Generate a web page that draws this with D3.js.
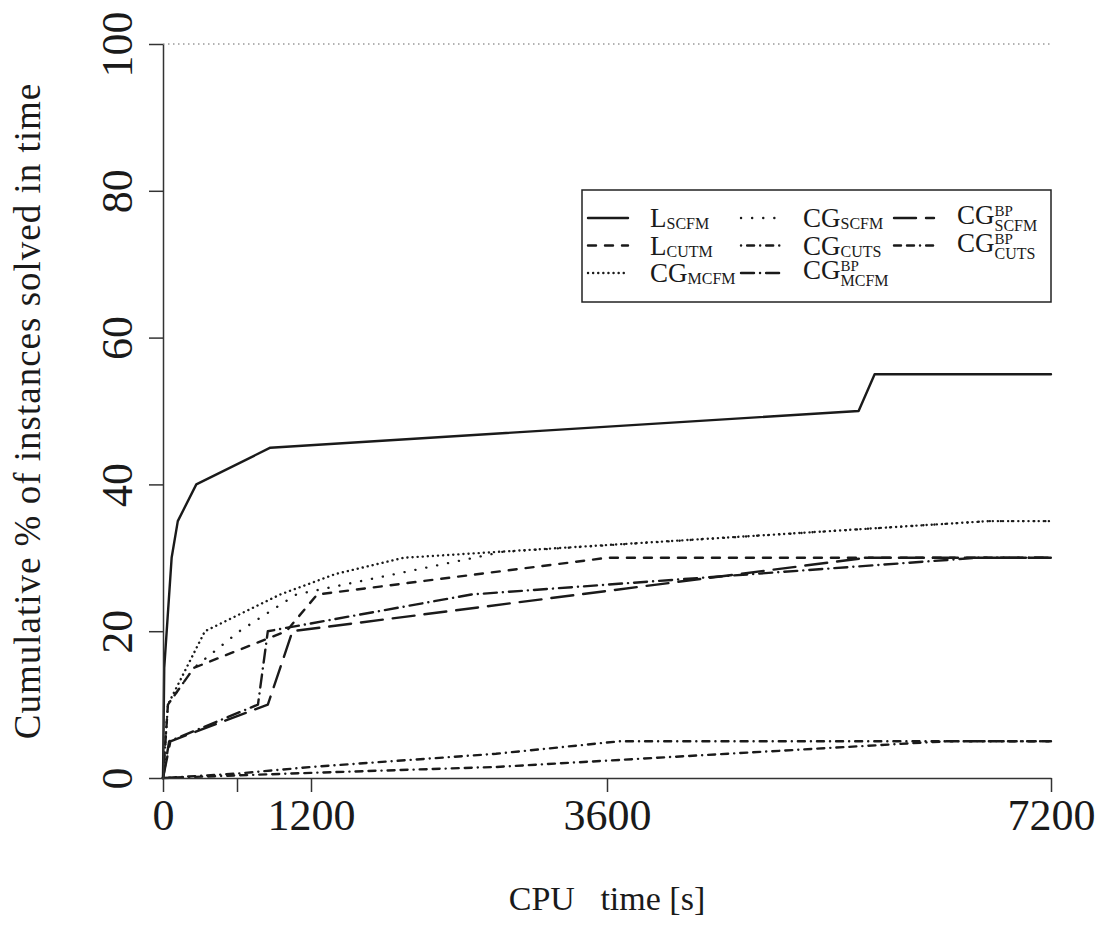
<!DOCTYPE html>
<html>
<head>
<meta charset="utf-8">
<script src="https://cdn.jsdelivr.net/npm/d3@7"></script>
<style>
  body { margin: 0; background: #fff; }
  svg { display: block; font-family: "Liberation Serif", "DejaVu Serif", serif; }
</style>
</head>
<body>
<div id="chart"></div>
<script>
// Tick values / labels
var timeTicks = [0, 600, 1200, 3600, 7200];
var timeTickLabels = ["0", "", "1200", "3600", "7200"];
var pctTicks = [0, 20, 40, 60, 80, 100];

// Series: [CPU time (s), cumulative % solved]
var lScfm    = [[0, 0], [10, 15], [70, 30], [120, 35], [270, 40], [870, 45], [5640, 50], [5770, 55], [7200, 55]];
var lCutm    = [[0, 0], [40, 10], [250, 15], [1000, 20], [1250, 25], [3600, 30], [7200, 30]];
var cgMcfm   = [[0, 0], [40, 10], [340, 20], [950, 25], [1400, 27.8], [1950, 30], [6700, 35], [7200, 35]];
var cgScfm   = [[0, 0], [40, 10], [250, 15], [620, 20], [1080, 25], [2750, 30.8], [6700, 35], [7200, 35]];
var cgCuts   = [[0, 0], [600, 0.6], [1200, 1.5], [2700, 3.3], [3700, 5], [7200, 5]];
var cgMcfmBp = [[0, 0], [50, 5], [770, 10], [850, 20], [2500, 25], [6600, 30], [7200, 30]];
var cgScfmBp = [[0, 0], [60, 5], [850, 10], [1050, 20], [5700, 30], [7200, 30]];
var cgCutsBp = [[0, 0], [1200, 0.7], [2700, 1.5], [6350, 5], [7200, 5]];

// Legend labels: base, superscript, subscript
var seriesNames = ["L", "L", "CG", "CG", "CG", "CG", "CG", "CG"];
var seriesSups  = ["", "", "", "", "", "BP", "BP", "BP"];
var seriesSubs  = ["SCFM", "CUTM", "MCFM", "SCFM", "CUTS", "MCFM", "SCFM", "CUTS"];
var seriesData  = [lScfm, lCutm, cgMcfm, cgScfm, cgCuts, cgMcfmBp, cgScfmBp, cgCutsBp];

// line styles (R-like lty patterns, round caps)
var dashes = [null, "8,9", "0.1,5", "0.1,11", "0.1,6,7,6", "13,6,0.1,6", "22,10", "7,6,7,6,0.1,6"];

var W = 1103, H = 928;
var svg = d3.select("#chart").append("svg")
    .attr("width", W)
    .attr("height", H);

var x = d3.scaleLinear().domain([0, 7200]).range([163, 1051]);
var y = d3.scaleLinear().domain([0, 100]).range([778, 44]);

var ink = "#1a1a1a";

// dotted reference line at 100 %
svg.append("line")
    .attr("x1", x(0)).attr("x2", x(7200))
    .attr("y1", y(100)).attr("y2", y(100))
    .attr("stroke", "#666")
    .attr("stroke-width", 1)
    .attr("stroke-dasharray", "1.5,3.5");

// series lines
var line = d3.line()
    .x(function(d) { return x(d[0]); })
    .y(function(d) { return y(d[1]); });

seriesData.forEach(function(data, i) {
    svg.append("path")
        .datum(data)
        .attr("fill", "none")
        .attr("stroke", ink)
        .attr("stroke-width", 2.4)
        .attr("stroke-linecap", "round")
        .attr("stroke-linejoin", "round")
        .attr("stroke-dasharray", dashes[i])
        .attr("d", line);
});

// X axis
var xAxis = svg.append("g")
    .attr("transform", "translate(0," + y(0) + ")")
    .call(d3.axisBottom(x)
        .tickValues(timeTicks)
        .tickSize(14)
        .tickSizeOuter(0)
        .tickFormat(function(d, i) { return timeTickLabels[i]; }));
xAxis.select(".domain").attr("stroke", "#333").attr("stroke-width", 1.5);
xAxis.selectAll(".tick line").attr("stroke", "#333").attr("stroke-width", 1.5);
xAxis.selectAll(".tick text")
    .attr("y", 52).attr("dy", 0)
    .attr("fill", ink)
    .style("font-size", "44px")
    .style("font-family", "Liberation Serif, serif");

// Y axis
var yAxis = svg.append("g")
    .attr("transform", "translate(" + x(0) + ",0)")
    .call(d3.axisLeft(y)
        .tickValues(pctTicks)
        .tickSize(14)
        .tickSizeOuter(0));
yAxis.select(".domain").attr("stroke", "#333").attr("stroke-width", 1.5);
yAxis.selectAll(".tick line").attr("stroke", "#333").attr("stroke-width", 1.5);
yAxis.selectAll(".tick text")
    .attr("transform", "rotate(-90)")
    .attr("x", 0).attr("y", -31).attr("dy", 0)
    .attr("text-anchor", "middle")
    .attr("fill", ink)
    .style("font-size", "44px")
    .style("font-family", "Liberation Serif, serif");

// Axis titles
svg.append("text")
    .attr("x", x(3600)).attr("y", 910)
    .attr("text-anchor", "middle")
    .attr("fill", ink)
    .style("font-size", "34px")
    .text("CPU\u00a0\u00a0\u00a0time [s]");

svg.append("text")
    .attr("transform", "translate(40," + ((y(0) + y(100)) / 2) + ") rotate(-90)")
    .attr("text-anchor", "middle")
    .attr("fill", ink)
    .style("font-size", "37px")
    .style("letter-spacing", "1px")
    .text("Cumulative % of instances solved in time");

// Legend
var legend = svg.append("g").attr("class", "legend");
legend.append("rect")
    .attr("x", 582).attr("y", 190)
    .attr("width", 469).attr("height", 112)
    .attr("fill", "#fff")
    .attr("stroke", "#222")
    .attr("stroke-width", 1.5);

var colSample = [588, 741, 894];
var colText = [650, 803, 957];
var rowY = [218, 245.5, 273];

seriesData.forEach(function(data, i) {
    var col = Math.floor(i / 3), row = i % 3;
    var ly = rowY[row];
    legend.append("line")
        .attr("x1", colSample[col]).attr("x2", colSample[col] + 40)
        .attr("y1", ly).attr("y2", ly)
        .attr("stroke", ink)
        .attr("stroke-width", 2.4)
        .attr("stroke-linecap", "round")
        .attr("stroke-dasharray", dashes[i]);

    var hasSup = seriesSups[i] !== "";
    var base = ly + (hasSup ? 6 : 9);
    var t = legend.append("text")
        .attr("x", colText[col]).attr("y", base)
        .attr("fill", ink);
    var main = t.append("tspan")
        .style("font-size", "27px")
        .text(seriesNames[i]);
    var w = main.node().getComputedTextLength();
    t.append("tspan")
        .attr("x", colText[col] + w).attr("y", base + (hasSup ? 7 : 2))
        .style("font-size", "16px")
        .text(seriesSubs[i]);
    if (hasSup) {
        t.append("tspan")
            .attr("x", colText[col] + w).attr("y", base - 8)
            .style("font-size", "15px")
            .text(seriesSups[i]);
    }
});
</script>
</body>
</html>
